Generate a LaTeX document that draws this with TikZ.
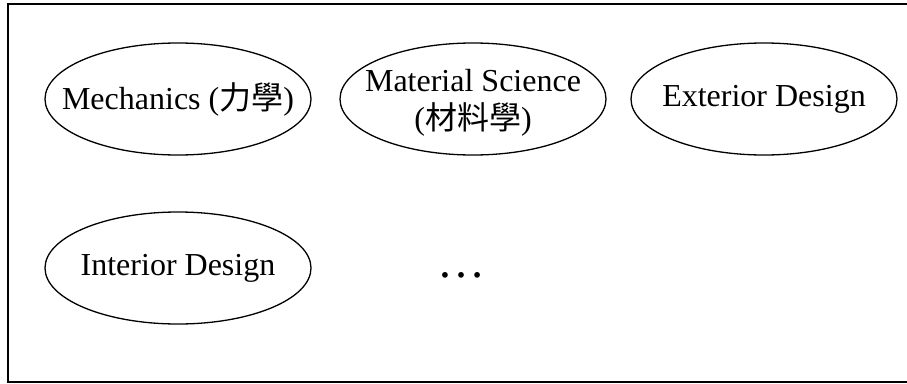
\documentclass[tikz,border=0pt]{standalone}
\usepackage{fontspec}
\setmainfont{Liberation Serif}
\newfontfamily\cjk{Noto Sans CJK TC}
\usetikzlibrary{shapes.geometric}

\begin{document}
\begin{tikzpicture}[x=1pt, y=-1pt, line width=1.3pt,
    field/.style={ellipse, draw, minimum width=266pt, minimum height=112pt, inner sep=0pt},
    fieldtext/.style={align=center, inner sep=0pt, font=\fontsize{32}{38}\selectfont}]
    \useasboundingbox (0,0) rectangle (907,383);
    \draw (920,4) -- (8,4) -- (8,382) -- (920,382);
    \node[field] (mech) at (178,99) {};
    \node[field] (matsci) at (473,99) {};
    \node[field] (ext) at (764,99) {};
    \node[field] (int) at (178,268) {};
    \node[fieldtext] at (mech) {Mechanics ({\cjk 力學})};
    \node[fieldtext] at ([yshift=-4pt]matsci) {Material Science\\({\cjk 材料學})};
    \node[fieldtext] at (ext) {Exterior Design};
    \node[fieldtext] at (int) {Interior Design};
    \node[font=\fontsize{48}{50}\selectfont, inner sep=0pt] (more) at (461,275) {…};
\end{tikzpicture}
\end{document}
